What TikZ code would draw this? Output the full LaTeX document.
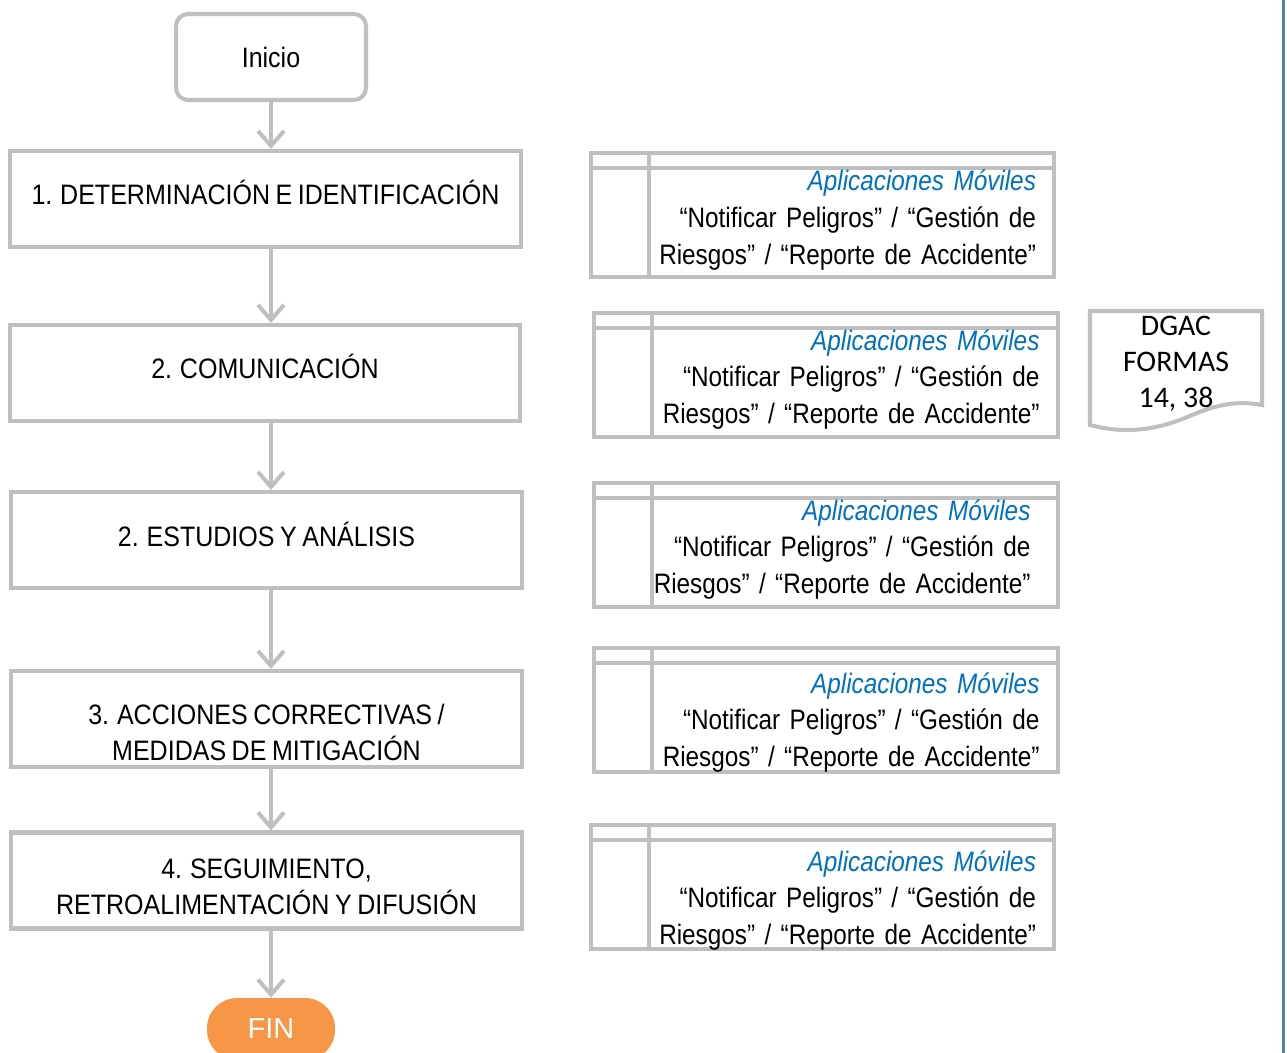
\documentclass[tikz,border=0pt]{standalone}
\usepackage{fontspec}
\setmainfont{Liberation Sans}[FakeStretch=0.89,WordSpace=0.8]
\newfontfamily\appfont{Liberation Sans}[FakeStretch=0.865,WordSpace=0.8]
\newfontfamily\calibri{Carlito}
\newfontfamily\finfont{Liberation Sans}
\usetikzlibrary{arrows.meta}
\definecolor{boxgray}{HTML}{BFBFBF}
\definecolor{appblue}{HTML}{0070C0}
\definecolor{finorange}{HTML}{F79646}
\definecolor{edgeblue}{HTML}{4F81BD}
\newcommand{\apptext}{{\color{appblue}\itshape Aplicaciones Móviles}\\“Notificar Peligros” / “Gestión de\\Riesgos” / “Reporte de Accidente”}
\begin{document}
\begin{tikzpicture}[x=0.02cm,y=-0.02cm,
    every node/.style={font=\fontsize{16}{20.5}\selectfont},
    startbox/.style={draw=boxgray,line width=2.3pt,rounded corners=0.24cm,minimum width=3.8cm,minimum height=1.72cm},
    stepbox/.style={draw=boxgray,line width=2.3pt,minimum width=10.22cm,minimum height=1.92cm,align=center,inner sep=0pt,
      text height=0.24cm,text depth=0cm},
    storebox/.style={draw=boxgray,line width=2.3pt,minimum width=9.28cm,minimum height=2.48cm,
      text width=8.54cm,inner xsep=0.37cm,inner ysep=0pt,align=right,text height=0cm,text depth=0.96cm,
      font=\appfont\fontsize{16}{20.8}\selectfont,
      path picture={
        \draw[boxgray,line width=2.3pt] ([xshift=1.16cm]path picture bounding box.north west) -- ([xshift=1.16cm]path picture bounding box.south west);
        \draw[boxgray,line width=2.3pt] ([yshift=-0.3cm]path picture bounding box.north west) -- ([yshift=-0.3cm]path picture bounding box.north east);}},
    endbox/.style={fill=finorange,text=white,rounded corners=0.6cm,minimum width=2.56cm,minimum height=1.24cm,
      font=\finfont\fontsize{16.5}{20}\selectfont},
    flow/.style={draw=boxgray,line width=2.3pt,-{Straight Barb[length=0.3cm,width=0.52cm]}}]
  \useasboundingbox (0,0) rectangle (1287,1053);
  \draw
    (271,57) node[startbox] (inicio){Inicio}
    (265.5,199) node[stepbox] (b1){1. DETERMINACIÓN E IDENTIFICACIÓN}
    (265,373) node[stepbox] (b2){2. COMUNICACIÓN}
    (266.5,540) node[stepbox,text height=0.28cm] (b3){2. ESTUDIOS Y ANÁLISIS}
    (266.5,719) node[stepbox,text height=1.68cm] (b4){3. ACCIONES CORRECTIVAS /\\MEDIDAS DE MITIGACIÓN}
    (266.5,880.5) node[stepbox,text height=1.38cm] (b5){4. SEGUIMIENTO,\\RETROALIMENTACIÓN Y DIFUSIÓN}
    (271,1029) node[endbox] (fin){FIN};
  \draw
    (822.5,215) node[storebox] (s1){\apptext}
    (826,375) node[storebox,text depth=1.0cm] (s2){\apptext}
    (826,545) node[storebox,text width=8.18cm,text depth=1.0cm] (s3){\apptext}
    (826,710) node[storebox,text depth=0.68cm] (s4){\apptext}
    (822.5,887) node[storebox,text depth=0.64cm] (s5){\apptext};
  \draw[boxgray,line width=2.3pt]
    (1090,311) -- (1262,311) -- (1262,405)
    .. controls (1235,400) and (1215,405) .. (1185,418)
    .. controls (1150,432) and (1120,433) .. (1090,425) -- cycle;
  \node[font=\calibri\fontsize{17}{20.5}\selectfont,align=center] (dgac) at (1176,364) {DGAC\\FORMAS\\14, 38};
  \begin{scope}[flow]
    \draw (inicio.south) to (inicio |- b1.north);
    \draw (b1.south -| inicio) to (b2.north -| inicio);
    \draw (b2.south -| inicio) to (b3.north -| inicio);
    \draw (b3.south -| inicio) to (b4.north -| inicio);
    \draw (b4.south -| inicio) to (b5.north -| inicio);
    \draw (b5.south -| inicio) to (fin.north);
  \end{scope}
  \draw[edgeblue,line width=1.7pt] (1283,0) -- (1283,1053);
\end{tikzpicture}
\end{document}
